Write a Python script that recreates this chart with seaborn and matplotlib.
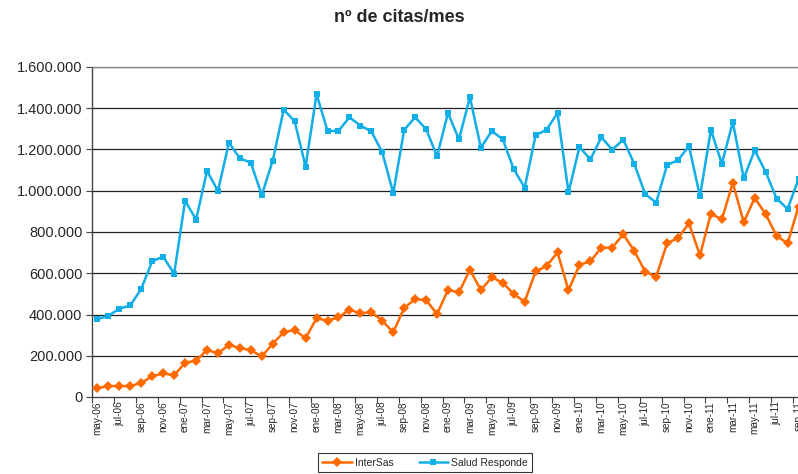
import matplotlib
matplotlib.use("Agg")
import matplotlib.pyplot as plt
from matplotlib.ticker import FixedLocator, FuncFormatter
import seaborn as sns
import pandas as pd

meses = ["ene", "feb", "mar", "abr", "may", "jun", "jul", "ago", "sep", "oct", "nov", "dic"]
months = []
for yr in range(2006, 2012):
    for m in range(12):
        if yr == 2006 and m < 4:
            continue
        if yr == 2011 and m > 8:
            continue
        months.append(f"{meses[m]}-{str(yr)[2:]}")

intersas = [42000, 53000, 53000, 53000, 69000, 100000, 115000, 105000,
            166000, 176000, 228000, 212000, 252000, 238000, 226000, 197000, 258000, 314000, 325000, 285000,
            382000, 370000, 386000, 423000, 406000, 411000, 370000, 313000, 433000, 474000, 470000, 402000,
            519000, 507000, 616000, 519000, 580000, 554000, 499000, 462000, 609000, 635000, 701000, 517000,
            641000, 658000, 724000, 724000, 789000, 709000, 608000, 583000, 745000, 771000, 842000, 687000,
            889000, 861000, 1038000, 847000, 966000, 886000, 781000, 745000, 923000]

salud = [378000, 394000, 428000, 444000, 525000, 659000, 680000, 598000,
         952000, 860000, 1096000, 999000, 1233000, 1157000, 1136000, 979000, 1146000, 1393000, 1337000, 1117000,
         1469000, 1290000, 1290000, 1356000, 1316000, 1288000, 1186000, 989000, 1295000, 1356000, 1299000, 1167000,
         1377000, 1249000, 1453000, 1209000, 1290000, 1249000, 1105000, 1015000, 1269000, 1296000, 1377000, 992000,
         1212000, 1152000, 1259000, 1199000, 1248000, 1131000, 984000, 942000, 1125000, 1148000, 1217000, 973000,
         1295000, 1131000, 1333000, 1060000, 1196000, 1091000, 962000, 912000, 1057000]

series_names = ["InterSas", "Salud Responde"]
yticks = [0, 200000, 400000, 600000, 800000, 1000000, 1200000, 1400000, 1600000]

n = len(months)
df = pd.DataFrame({
    "idx": list(range(n)) * 2,
    "valor": intersas + salud,
    "serie": [series_names[0]] * n + [series_names[1]] * n,
})

sns.set_style("white")
plt.rcParams["font.family"] = ["Liberation Sans", "DejaVu Sans"]

fig = plt.figure(figsize=(7.98, 4.74), dpi=100)
ax = fig.add_axes([92 / 798, 1 - 397 / 474, 712 / 798, 330 / 474])

palette = {"InterSas": "#FF6A00", "Salud Responde": "#12AEE8"}
sns.lineplot(data=df, x="idx", y="valor", hue="serie", style="serie",
             markers={"InterSas": "D", "Salud Responde": "s"},
             dashes=False, palette=palette, linewidth=1.8, markersize=5,
             markeredgewidth=0, ax=ax, legend=True, zorder=3)

ax.set_xlim(-0.5, n - 0.5)
ax.set_ylim(0, 1600000)
ax.set_yticks(yticks)
ax.yaxis.set_major_formatter(FuncFormatter(lambda v, p: f"{int(v):,}".replace(",", ".")))
ax.tick_params(axis="y", labelsize=10.5, length=4, width=0.8, color="#444444", left=True, pad=3)
for t in yticks[1:]:
    ax.axhline(t, color="#222222", lw=0.9, zorder=1)

# x: tick marks at category boundaries, labels every 2 categories
ax.xaxis.set_major_locator(FixedLocator([i - 0.5 for i in range(0, n + 1, 2)]))
ax.xaxis.set_major_formatter(FuncFormatter(lambda v, p: ""))
ax.set_xticks(list(range(0, n, 2)), minor=True)
ax.set_xticklabels(months[::2], minor=True, rotation=90, fontsize=7.2)
ax.tick_params(axis="x", which="major", length=4, width=0.8, color="#444444", bottom=True)
ax.tick_params(axis="x", which="minor", length=0, pad=3, bottom=True)

ax.set_xlabel("")
ax.set_ylabel("")
for s in ["top", "right"]:
    ax.spines[s].set_color("#888888")
    ax.spines[s].set_linewidth(1.0)
for s in ["left", "bottom"]:
    ax.spines[s].set_color("#444444")
    ax.spines[s].set_linewidth(1.0)

handles, labels = ax.get_legend_handles_labels()
ax.get_legend().remove()
leg = fig.legend(handles, labels, loc="upper center", bbox_to_anchor=(425 / 798, 1 - 453 / 474),
                 ncol=2, fontsize=7.5, frameon=True, fancybox=False, edgecolor="black",
                 handlelength=2.8, handletextpad=0.3, columnspacing=2.4, borderpad=0.45,
                 borderaxespad=0)
leg.get_frame().set_linewidth(0.8)

fig.text(0.5, 1 - 18 / 474, "nº de citas/mes", ha="center", va="center",
         fontsize=13, fontweight="bold")

fig.savefig("out.png", dpi=100)
